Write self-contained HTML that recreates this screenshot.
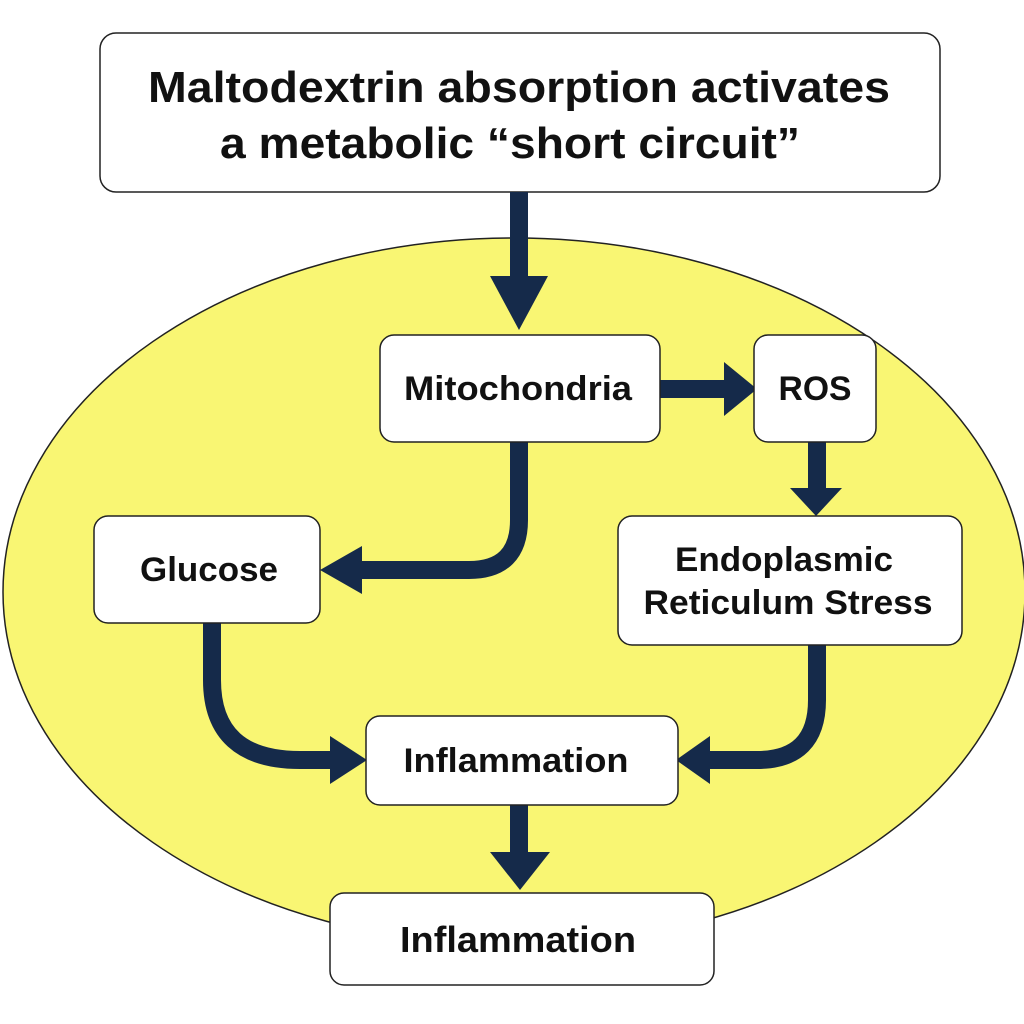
<!DOCTYPE html>
<html><head><meta charset="utf-8"><style>
body{margin:0;background:#fff}
svg{display:block}
text{font-family:"Liberation Sans",sans-serif;font-weight:bold;fill:#111;text-anchor:middle}
</style></head><body>
<svg width="1024" height="1024" viewBox="0 0 1024 1024">
<rect width="1024" height="1024" fill="#fff"/>
<ellipse cx="514" cy="592" rx="511" ry="354" fill="#f9f673" stroke="#222" stroke-width="1.5"/>
<rect x="100" y="33" width="840" height="159" rx="16" fill="#fff" stroke="#222" stroke-width="1.5"/>
<text x="519" y="102" font-size="44" textLength="742" lengthAdjust="spacingAndGlyphs">Maltodextrin absorption activates</text>
<text x="510" y="158" font-size="44" textLength="580" lengthAdjust="spacingAndGlyphs">a metabolic “short circuit”</text>
<g fill="#152a4a" stroke="none">
<rect x="510" y="192" width="18" height="86"/>
<polygon points="490,276 548,276 519,330"/>
<rect x="660" y="380" width="68" height="18"/>
<polygon points="724,362 757,389 724,416"/>
<rect x="808" y="442" width="18" height="50"/>
<polygon points="790,488 842,488 816,516"/>
<rect x="510" y="805" width="18" height="52"/>
<polygon points="490,852 550,852 520,890"/>
<polygon points="320,570 362,546 362,594"/>
<polygon points="367,760 330,736 330,784"/>
<polygon points="676,760 710,736 710,784"/>
</g>
<g fill="none" stroke="#152a4a" stroke-width="18">
<path d="M519,442 V520 Q519,570 469,570 H355"/>
<path d="M212,623 V680 Q212,760 300,760 H335"/>
<path d="M817,645 V700 Q817,760 757,760 H705"/>
</g>
<g fill="#fff" stroke="#222" stroke-width="1.5">
<rect x="380" y="335" width="280" height="107" rx="14"/>
<rect x="754" y="335" width="122" height="107" rx="14"/>
<rect x="94" y="516" width="226" height="107" rx="14"/>
<rect x="618" y="516" width="344" height="129" rx="14"/>
<rect x="366" y="716" width="312" height="89" rx="14"/>
<rect x="330" y="893" width="384" height="92" rx="14"/>
</g>
<text x="518" y="400" font-size="34" textLength="228" lengthAdjust="spacingAndGlyphs">Mitochondria</text>
<text x="815" y="400" font-size="34" textLength="73" lengthAdjust="spacingAndGlyphs">ROS</text>
<text x="209" y="581" font-size="34" textLength="138" lengthAdjust="spacingAndGlyphs">Glucose</text>
<text x="784" y="571" font-size="34" textLength="218" lengthAdjust="spacingAndGlyphs">Endoplasmic</text>
<text x="788" y="614" font-size="34" textLength="289" lengthAdjust="spacingAndGlyphs">Reticulum Stress</text>
<text x="516" y="772" font-size="34" textLength="225" lengthAdjust="spacingAndGlyphs">Inflammation</text>
<text x="518" y="952" font-size="36" textLength="236" lengthAdjust="spacingAndGlyphs">Inflammation</text>
</svg>
</body></html>
